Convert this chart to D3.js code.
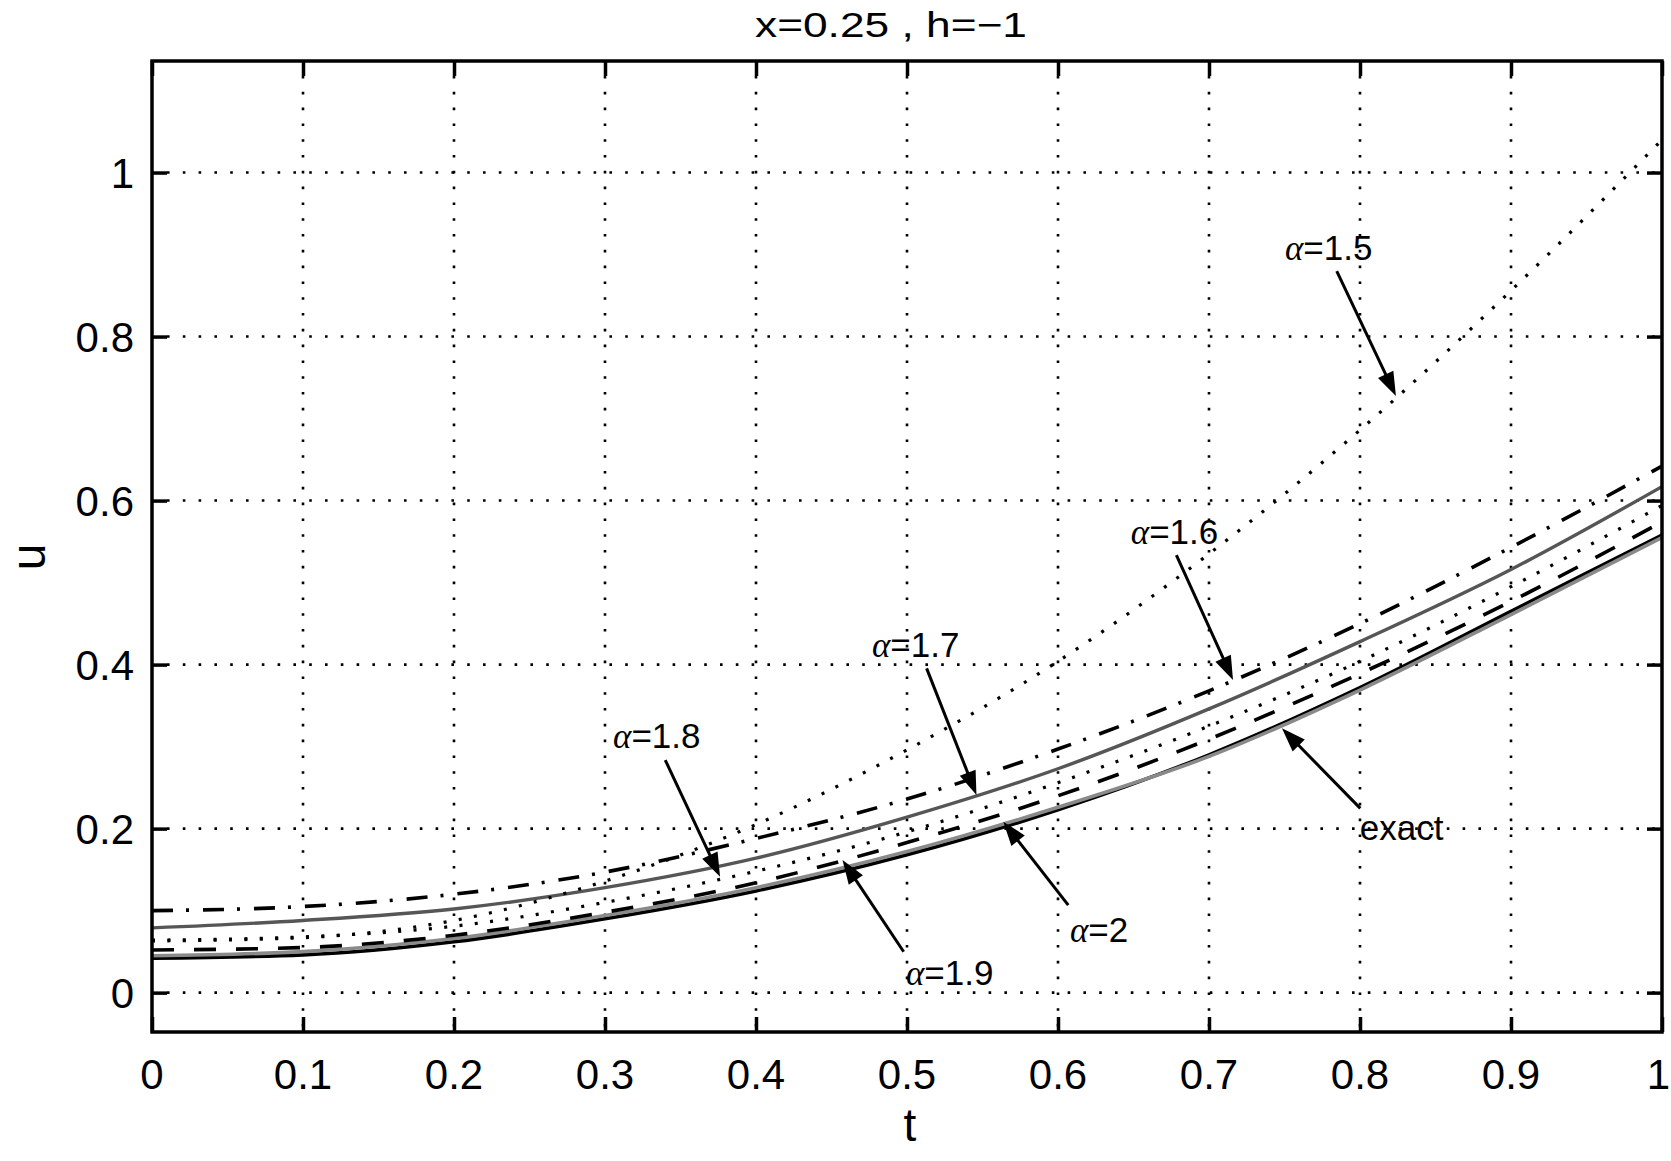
<!DOCTYPE html>
<html>
<head>
<meta charset="utf-8">
<script src="https://cdn.jsdelivr.net/npm/d3@7"></script>
<style>
  body { margin: 0; background: #ffffff; }
  text { font-family: "Liberation Sans", Arial, Helvetica, sans-serif; fill: #000; }
</style>
</head>
<body>
<svg id="chart" width="1671" height="1161"></svg>
<script>
// ---------------- data ----------------
const tValues   = [0, 0.1, 0.2, 0.3, 0.4, 0.5, 0.6, 0.7, 0.8, 0.9, 1.0];
const uAlpha15  = [0.063, 0.067, 0.088, 0.136, 0.205, 0.296, 0.404, 0.535, 0.686, 0.856, 1.040];
const uAlpha16  = [0.100, 0.105, 0.120, 0.147, 0.188, 0.236, 0.297, 0.368, 0.450, 0.543, 0.642];
const uAlpha17  = [0.079, 0.088, 0.102, 0.128, 0.164, 0.214, 0.273, 0.346, 0.428, 0.516, 0.617];
const uAlpha18  = [0.064, 0.068, 0.081, 0.110, 0.148, 0.196, 0.256, 0.325, 0.404, 0.495, 0.594];
const uAlpha19  = [0.052, 0.055, 0.070, 0.098, 0.134, 0.183, 0.240, 0.309, 0.389, 0.477, 0.574];
const uAlpha2   = [0.042, 0.046, 0.062, 0.090, 0.124, 0.168, 0.223, 0.290, 0.372, 0.465, 0.558];
const uExact    = [0.045, 0.050, 0.066, 0.094, 0.128, 0.172, 0.226, 0.288, 0.369, 0.461, 0.555];

const xTicks      = [0, 0.1, 0.2, 0.3, 0.4, 0.5, 0.6, 0.7, 0.8, 0.9, 1];
const xTickLabels = ["0", "0.1", "0.2", "0.3", "0.4", "0.5", "0.6", "0.7", "0.8", "0.9", "1"];
const yTicks      = [0, 0.2, 0.4, 0.6, 0.8, 1];
const yTickLabels = ["0", "0.2", "0.4", "0.6", "0.8", "1"];

const titleText  = "x=0.25 , h=\u22121";
const xLabelText = "t";
const yLabelText = "u";

// annotation labels (text, then arrow tail and head in data units t,u)
const annoNames = ["1.5", "1.6", "1.7", "1.8", "1.9", "2", "exact"];
const annoText  = [[0.7503, 0.8932], [0.6482, 0.5470], [0.4768, 0.4092], [0.3053, 0.2983], [0.4993, 0.0093], [0.6079, 0.0617], [0.7999, 0.1861]];
const annoTail  = [[0.7846, 0.8799], [0.6784, 0.5336], [0.5130, 0.3954], [0.3399, 0.2836], [0.4978, 0.0499], [0.6068, 0.1068], [0.8002, 0.2247]];
const annoHead  = [[0.8238, 0.7275], [0.7159, 0.3812], [0.5460, 0.2409], [0.3762, 0.1413], [0.4573, 0.1617], [0.5638, 0.2084], [0.7483, 0.3223]];

// ---------------- layout ----------------
const W = 1671, H = 1161;
const plot = { left: 152, right: 1662, top: 61, bottom: 1032 };
const yDomain = [-0.048, 1.136];

const svg = d3.select("#chart");
svg.append("rect").attr("width", W).attr("height", H).attr("fill", "#fff");

const x = d3.scaleLinear().domain([0, 1]).range([plot.left, plot.right]);
const y = d3.scaleLinear().domain(yDomain).range([plot.bottom, plot.top]);

// grid (dotted)
const grid = svg.append("g");
grid.selectAll("line.gx").data(xTicks.filter(d => d > 0 && d < 1)).join("line")
  .attr("x1", d => x(d)).attr("x2", d => x(d))
  .attr("y1", plot.top + 15).attr("y2", plot.bottom)
  .attr("stroke", "#000").attr("stroke-width", 2.6)
  .attr("stroke-dasharray", "2.6 13.2");
grid.selectAll("line.gy").data(yTicks).join("line")
  .attr("x1", plot.left + 15).attr("x2", plot.right)
  .attr("y1", d => y(d)).attr("y2", d => y(d))
  .attr("stroke", "#000").attr("stroke-width", 2.6)
  .attr("stroke-dasharray", "2.6 13.2");

// series
const series = [
  { u: uAlpha2,  color: "#000",    width: 3.6, dash: null },
  { u: uExact,   color: "#8a8a8a", width: 3.6, dash: null },
  { u: uAlpha19, color: "#000",    width: 3.6, dash: "22 20" },
  { u: uAlpha18, color: "#000",    width: 3.2, dash: "3 12.4" },
  { u: uAlpha17, color: "#565656", width: 3.4, dash: null },
  { u: uAlpha16, color: "#000",    width: 3.6, dash: "21 13 3 14" },
  { u: uAlpha15, color: "#000",    width: 3.2, dash: "3 12.4" }
];
const line = d3.line()
  .x((d, i) => x(tValues[i]))
  .y(d => y(d))
  .curve(d3.curveMonotoneX);

svg.append("clipPath").attr("id", "clipPlot")
  .append("rect").attr("x", plot.left).attr("y", plot.top)
  .attr("width", plot.right - plot.left).attr("height", plot.bottom - plot.top);

const lines = svg.append("g").attr("clip-path", "url(#clipPlot)");
series.forEach(s => {
  lines.append("path")
    .attr("d", line(s.u))
    .attr("fill", "none")
    .attr("stroke", s.color)
    .attr("stroke-width", s.width)
    .attr("stroke-dasharray", s.dash)
    .attr("stroke-linejoin", "round");
});

// frame
svg.append("rect")
  .attr("x", plot.left).attr("y", plot.top)
  .attr("width", plot.right - plot.left).attr("height", plot.bottom - plot.top)
  .attr("fill", "none").attr("stroke", "#000").attr("stroke-width", 3.5);

// axes with inward ticks on all four sides
const tickLen = 15;
const xAxisB = d3.axisBottom(x).tickValues(xTicks).tickSize(-tickLen).tickFormat("");
const xAxisT = d3.axisTop(x).tickValues(xTicks).tickSize(-tickLen).tickFormat("");
const yAxisL = d3.axisLeft(y).tickValues(yTicks).tickSize(-tickLen).tickFormat("");
const yAxisR = d3.axisRight(y).tickValues(yTicks).tickSize(-tickLen).tickFormat("");
function styleAxis(g) {
  g.select(".domain").remove();
  g.selectAll(".tick line").attr("stroke", "#000").attr("stroke-width", 3.5);
}
svg.append("g").attr("transform", `translate(0,${plot.bottom})`).call(xAxisB).call(styleAxis);
svg.append("g").attr("transform", `translate(0,${plot.top})`).call(xAxisT).call(styleAxis);
svg.append("g").attr("transform", `translate(${plot.left},0)`).call(yAxisL).call(styleAxis);
svg.append("g").attr("transform", `translate(${plot.right},0)`).call(yAxisR).call(styleAxis);

// tick labels (the last one is kept inside the page edge)
svg.append("g").selectAll("text").data(xTicks).join("text")
  .attr("x", d => d === 1 ? W - 1 : x(d)).attr("y", 1089)
  .attr("text-anchor", d => d === 1 ? "end" : "middle").attr("font-size", 42)
  .text((d, i) => xTickLabels[i]);
svg.append("g").selectAll("text").data(yTicks).join("text")
  .attr("x", 134).attr("y", d => y(d)).attr("dy", "0.36em")
  .attr("text-anchor", "end").attr("font-size", 42)
  .text((d, i) => yTickLabels[i]);

// axis labels
svg.append("text").attr("x", 910).attr("y", 1141)
  .attr("text-anchor", "middle").attr("font-size", 46).text(xLabelText);
svg.append("text")
  .attr("transform", `translate(45,${557}) rotate(-90)`)
  .attr("text-anchor", "middle").attr("font-size", 48).text(yLabelText);

// title
svg.append("text").attr("x", 891).attr("y", 37)
  .attr("text-anchor", "middle").attr("font-size", 35)
  .attr("textLength", 272).attr("lengthAdjust", "spacingAndGlyphs")
  .text(titleText);

// annotations with arrows
const ann = svg.append("g");
annoNames.forEach((name, i) => {
  const tx = x(annoText[i][0]), ty = y(annoText[i][1]);
  const t = ann.append("text").attr("x", tx).attr("y", ty).attr("font-size", 35);
  if (name === "exact") {
    t.text("exact");
  } else {
    t.append("tspan").attr("font-family", "'Liberation Serif', 'DejaVu Serif', serif")
      .attr("font-style", "italic").text("\u03b1");
    t.append("tspan").text("=" + name);
  }
  const x0 = x(annoTail[i][0]), y0 = y(annoTail[i][1]);
  const x1 = x(annoHead[i][0]), y1 = y(annoHead[i][1]);
  const dx = x1 - x0, dy = y1 - y0, L = Math.hypot(dx, dy);
  const ux = dx / L, uy = dy / L;
  const headLen = 24, headHalf = 8.5;
  const bx = x1 - ux * headLen, by = y1 - uy * headLen;
  ann.append("line").attr("x1", x0).attr("y1", y0).attr("x2", bx + ux * 2).attr("y2", by + uy * 2)
    .attr("stroke", "#000").attr("stroke-width", 3);
  ann.append("path")
    .attr("d", `M${x1},${y1}L${bx - uy * headHalf},${by + ux * headHalf}L${bx + uy * headHalf},${by - ux * headHalf}Z`)
    .attr("fill", "#000");
});
</script>
</body>
</html>
